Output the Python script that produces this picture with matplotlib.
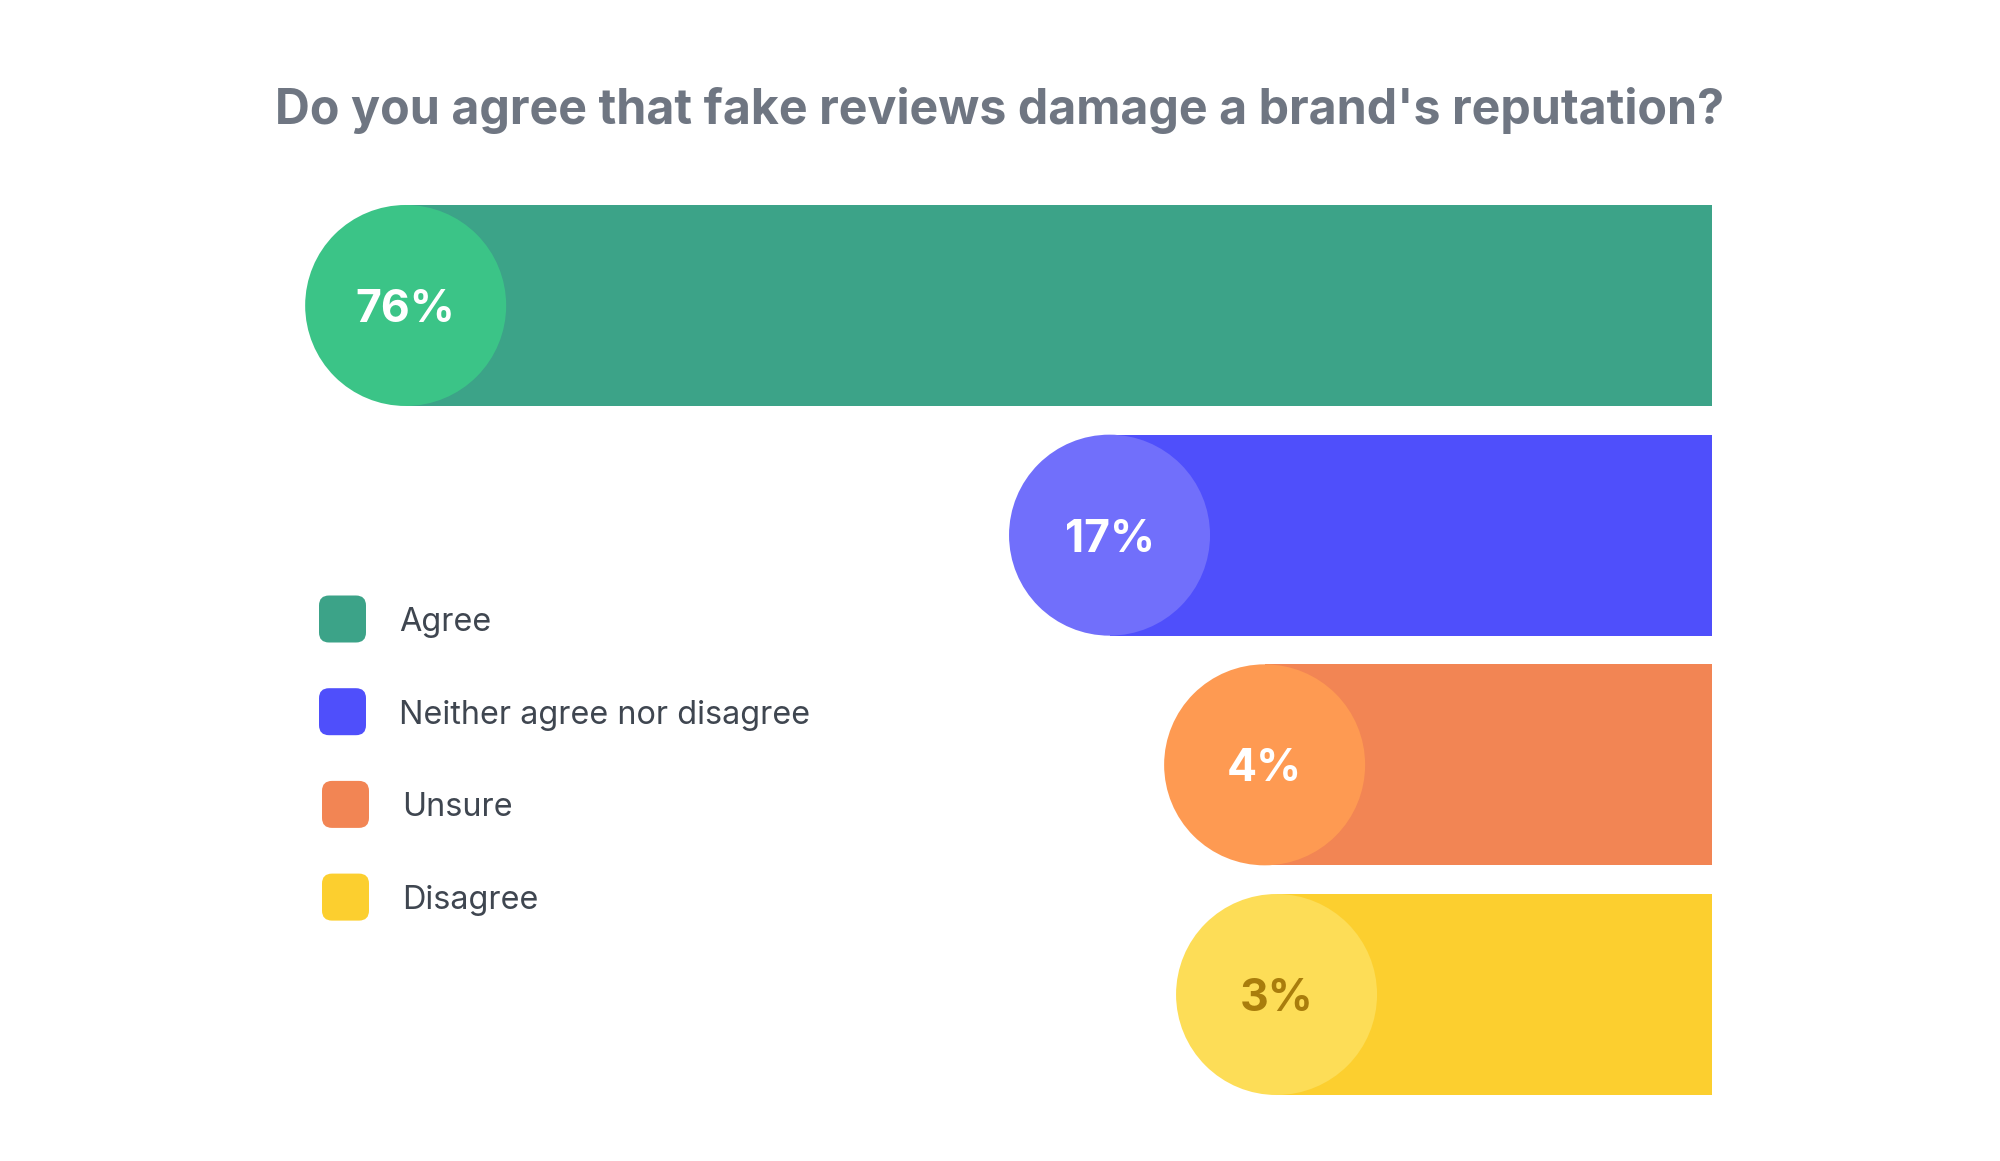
import matplotlib
matplotlib.use("Agg")
from matplotlib import pyplot as plt
from matplotlib.patches import FancyBboxPatch

title = "Do you agree that fake reviews damage a brand's reputation?"
categories = ["Agree", "Neither agree nor disagree", "Unsure", "Disagree"]
values = [76, 17, 4, 3]
labels = ["76%", "17%", "4%", "3%"]

bar_colors = ["#3ca388", "#4f4ffb", "#f28554", "#fccf2f"]
circle_colors = ["#3bc487", "#716ffb", "#fe9a52", "#fddd57"]
label_colors = ["white", "white", "white", "#a97d0c"]

# bars start from a fixed stub so small values still fit their circle
stub = 33.5

W, H = 2000, 1161
fig = plt.figure(figsize=(W / 100, H / 100), dpi=100)
plt.rcParams['font.family'] = ['Inter', 'DejaVu Sans']

# bar axes: right edge at 1712px, rows 230px apart
row = 229.7
ax_left, ax_right = 200, 1712
ax_top = 305.5 - row / 2
ax_bot = 994.5 + row / 2
ax = fig.add_axes([ax_left / W, 1 - ax_bot / H, (ax_right - ax_left) / W, (ax_bot - ax_top) / H])
ax.set_xlim((ax_right - ax_left) / 11.93, 0)
ax.set_ylim(len(values) - 0.5, -0.5)
ax.axis('off')

ypos = list(range(len(values)))
ends = [stub + v for v in values]
ax.barh(ypos, ends, height=201 / row, color=bar_colors, linewidth=0)
diam_pt = 201 * 72 / 100
ax.scatter(ends, ypos, s=diam_pt ** 2, c=circle_colors, marker='o', linewidths=0, zorder=3)
for x, y, lab, col in zip(ends, ypos, labels, label_colors):
	ax.text(x, y, lab, ha='center', va='center_baseline', color=col,
		fontsize=32, fontweight='bold', zorder=4)

fig.text(0.5, 1 - 110 / H, title, ha='center', va='center', fontsize=34.8,
	fontweight='bold', color='#6f7682')

# legend
box = 47
for i, name in enumerate(categories):
	cy = 619 + i * 92.7
	bx = 319 + (3 if i >= 2 else 0)
	p = FancyBboxPatch((bx / W, 1 - (cy + box / 2) / H), box / W, box / H,
		boxstyle="round,pad=0,rounding_size=0.005", transform=fig.transFigure,
		fc=bar_colors[i], ec='none', mutation_aspect=W / H)
	fig.patches.append(p)
	fig.text((bx + 80) / W, 1 - cy / H, name, ha='left', va='center_baseline',
		fontsize=23.3, color='#3f4650')

fig.savefig("out.png", dpi=100, facecolor='white')
